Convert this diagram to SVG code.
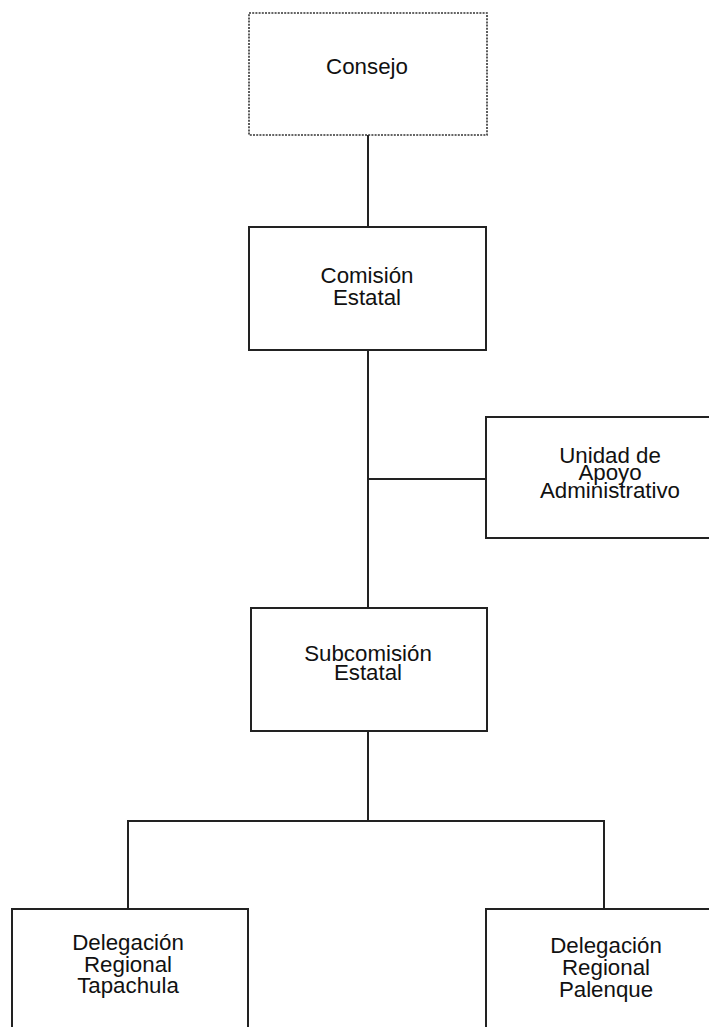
<svg xmlns="http://www.w3.org/2000/svg" width="709" height="1027" viewBox="0 0 709 1027">
<style>
.box{fill:#fff;stroke:#222;stroke-width:2}
.dot{fill:#fff;stroke:#333;stroke-width:1.6;stroke-dasharray:2 1.2}
.ln{stroke:#222;stroke-width:2;fill:none}
text{font-family:"Liberation Sans",Arial,sans-serif;font-size:22.3px;fill:#111;text-anchor:middle}
</style>
<rect width="709" height="1027" fill="#fff"/>
<g id="connectors">
<line class="ln" x1="368" y1="135" x2="368" y2="227"/>
<line class="ln" x1="368" y1="350" x2="368" y2="608"/>
<line class="ln" x1="368" y1="479" x2="486" y2="479"/>
<line class="ln" x1="368" y1="731" x2="368" y2="821"/>
<polyline class="ln" points="128,909 128,821 604,821 604,909"/>
</g>
<g id="consejo">
<rect class="dot" x="249" y="13" width="238" height="122"/>
<text x="367" y="74">Consejo</text>
</g>
<g id="comision">
<rect class="box" x="249" y="227" width="237" height="123"/>
<text x="367" y="283">Comisión</text>
<text x="367" y="305">Estatal</text>
</g>
<g id="unidad">
<rect class="box" x="486" y="417" width="230" height="121"/>
<text x="610" y="463">Unidad de</text>
<text x="610" y="480">Apoyo</text>
<text x="610" y="498">Administrativo</text>
</g>
<g id="subcomision">
<rect class="box" x="251" y="608" width="236" height="123"/>
<text x="368" y="661">Subcomisión</text>
<text x="368" y="680">Estatal</text>
</g>
<g id="tapachula">
<rect class="box" x="12" y="909" width="236" height="130"/>
<text x="128" y="950">Delegación</text>
<text x="128" y="972">Regional</text>
<text x="128" y="993">Tapachula</text>
</g>
<g id="palenque">
<rect class="box" x="486" y="909" width="230" height="130"/>
<text x="606" y="953">Delegación</text>
<text x="606" y="975">Regional</text>
<text x="606" y="997">Palenque</text>
</g>
</svg>
